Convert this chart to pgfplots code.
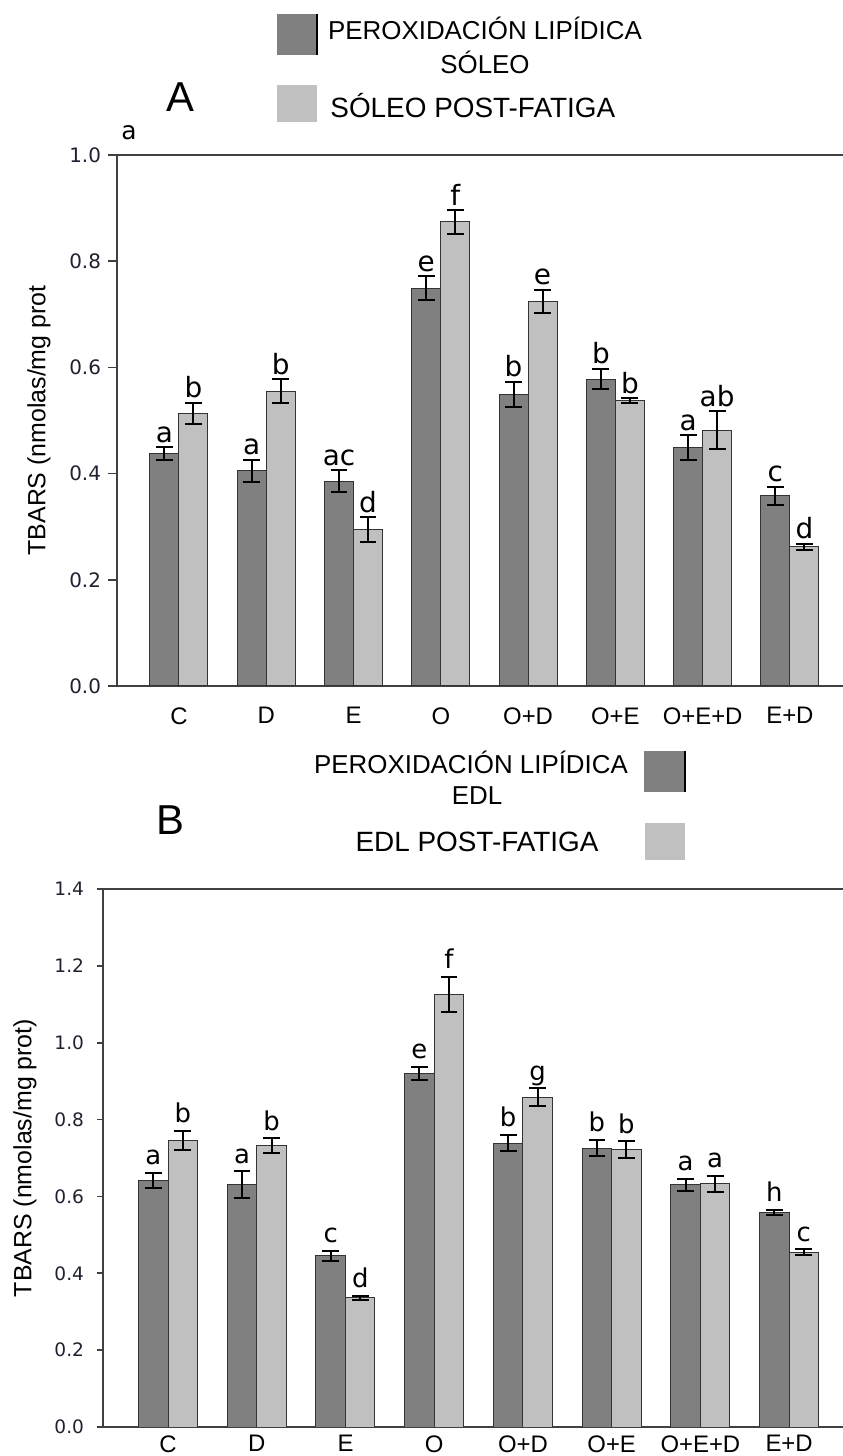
\documentclass[border=0pt]{standalone}
\usepackage{pgfplots}
\pgfplotsset{compat=1.18}
\usepackage{pgfplotstable}
\usepackage{fontspec}
\setmainfont{Liberation Sans}
\newfontfamily\dejavu{DejaVu Sans}

\definecolor{darkbar}{HTML}{808080}
\definecolor{lightbar}{HTML}{C0C0C0}
\definecolor{axcol}{HTML}{404040}
\definecolor{tickcol}{HTML}{202030}

% Panel A: soleo
\pgfplotstableread{
x y e lab
0 0.438 0.012 a
1 0.405 0.021 a
2 0.386 0.020 ac
3 0.749 0.023 e
4 0.549 0.024 b
5 0.578 0.019 b
6 0.449 0.023 a
7 0.358 0.017 c
}\soleoPre
\pgfplotstableread{
x y e lab
0 0.513 0.020 b
1 0.555 0.023 b
2 0.295 0.023 d
3 0.874 0.022 f
4 0.724 0.022 e
5 0.537 0.005 b
6 0.482 0.035 ab
7 0.262 0.006 d
}\soleoPost
% Panel B: EDL
\pgfplotstableread{
x y e lab
0 0.641 0.020 a
1 0.631 0.035 a
2 0.445 0.014 c
3 0.920 0.018 e
4 0.739 0.021 b
5 0.726 0.022 b
6 0.630 0.016 a
7 0.558 0.007 h
}\edlPre
\pgfplotstableread{
x y e lab
0 0.746 0.025 b
1 0.732 0.019 b
2 0.336 0.005 d
3 1.125 0.046 f
4 0.858 0.023 g
5 0.722 0.022 b
6 0.633 0.021 a
7 0.455 0.007 c
}\edlPost

\pgfplotsset{
  barpanel/.style={
    scale only axis,
    anchor=south west,
    ybar,
    ymin=0,
    xtick={0,...,7},
    xticklabels={C,D,E,O,O+D,O+E,O+E+D,E+D},
    xtick style={draw=none},
    ytick pos=left,
    tick align=outside,
    axis line style={axcol, line width=0.8bp},
    ytick style={axcol, line width=0.8bp},
    /pgf/number format/assume math mode=true,
    /pgf/number format/fixed,
    /pgf/number format/fixed zerofill,
    /pgf/number format/precision=1,
    yticklabel style={color=tickcol},
    xticklabel style={font=\fontsize{12}{14}\selectfont, anchor=north, inner sep=0pt},
    every axis y label/.style={at={(axis description cs:0,0.5)}, rotate=90, anchor=center, yshift=39bp, font=\fontsize{12.5}{14}\selectfont},
  },
  errs/.style={
    error bars/.cd,
    y dir=both, y explicit,
    error bar style={line width=1bp, black},
    error mark options={rotate=90, mark size=4.2bp, line width=1bp, black},
  },
  letters/.style={
    draw=none, fill=none,
    nodes near coords,
    point meta=explicit symbolic,
    every node near coord/.append style={anchor=base, inner sep=0pt, text=black},
  },
  darkser/.style={fill=darkbar, draw=black!80, line width=0.5bp},
  lightser/.style={fill=lightbar, draw=black!80, line width=0.5bp},
}

\begin{document}
\begin{tikzpicture}
\useasboundingbox (0,0) rectangle (421.5bp,728bp);

% ---------- Panel A ----------
\begin{axis}[barpanel,
  at={(58.5bp,385bp)},
  width=366bp, height=265.5bp,
  xmin=-0.710, xmax=7.677,
  ymax=1.0,
  ytick={0,0.2,0.4,0.6,0.8,1.0},
  bar width=14.5bp,
  major tick length=4.5bp,
  yticklabel style={font=\dejavu\fontsize{10}{11}\selectfont},
  xticklabel shift=6bp,
  ylabel={TBARS (nmolas/mg prot},
  every node near coord/.append style={font=\dejavu\fontsize{14}{16}\selectfont, yshift=2.5bp},
]
\addplot[darkser, bar shift=-7.25bp, errs] table[x=x, y=y, y error=e] {\soleoPre};
\addplot[lightser, bar shift=7.25bp, errs] table[x=x, y=y, y error=e] {\soleoPost};
\addplot[letters, bar shift=-7.25bp] table[x=x, y expr=\thisrow{y}+\thisrow{e}, meta=lab] {\soleoPre};
\addplot[letters, bar shift=7.25bp] table[x=x, y expr=\thisrow{y}+\thisrow{e}, meta=lab] {\soleoPost};
\end{axis}

% ---------- Panel B ----------
\begin{axis}[barpanel,
  at={(51.5bp,14.5bp)},
  width=373bp, height=269bp,
  xmin=-0.733, xmax=7.675,
  ymax=1.4,
  ytick={0,0.2,0.4,0.6,0.8,1.0,1.2,1.4},
  bar width=14.75bp,
  major tick length=3bp,
  yticklabel style={font=\dejavu\fontsize{9.3}{10}\selectfont, xshift=-3bp},
  xticklabel shift=1bp,
  ylabel={TBARS (nmolas/mg prot)},
  every node near coord/.append style={font=\dejavu\fontsize{13}{15}\selectfont, yshift=4bp},
]
\addplot[darkser, bar shift=-7.375bp, errs] table[x=x, y=y, y error=e] {\edlPre};
\addplot[lightser, bar shift=7.375bp, errs] table[x=x, y=y, y error=e] {\edlPost};
\addplot[letters, bar shift=-7.375bp] table[x=x, y expr=\thisrow{y}+\thisrow{e}, meta=lab] {\edlPre};
\addplot[letters, bar shift=7.375bp] table[x=x, y expr=\thisrow{y}+\thisrow{e}, meta=lab] {\edlPost};
\end{axis}

% ---------- Legend A ----------
\fill[darkbar] (138.5bp,700.5bp) rectangle (159bp,721bp);
\draw[black, line width=1bp] (158.5bp,700.5bp) -- (158.5bp,721bp);
\fill[lightbar] (138.5bp,667bp) rectangle (158.5bp,685.5bp);
\node[font=\fontsize{13}{15}\selectfont, anchor=center] at (242.5bp,714bp) {PEROXIDACIÓN LIPÍDICA};
\node[font=\fontsize{13}{15}\selectfont, anchor=center] at (242.5bp,697bp) {SÓLEO};
\node[font=\fontsize{14}{16}\selectfont, anchor=west, inner sep=0pt] at (165bp,675bp) {SÓLEO POST-FATIGA};
\node[font=\fontsize{21}{24}\selectfont] at (90bp,679.5bp) {A};
\node[font=\dejavu\fontsize{12.5}{14}\selectfont] at (64.5bp,661.5bp) {a};

% ---------- Legend B ----------
\fill[darkbar] (322bp,332bp) rectangle (343bp,352.5bp);
\draw[black, line width=1bp] (342.5bp,332bp) -- (342.5bp,352.5bp);
\fill[lightbar] (322.5bp,298bp) rectangle (342.5bp,316.5bp);
\node[font=\fontsize{13}{15}\selectfont, anchor=center] at (235.5bp,347bp) {PEROXIDACIÓN LIPÍDICA};
\node[font=\fontsize{13}{15}\selectfont, anchor=center] at (238.5bp,330bp) {EDL};
\node[font=\fontsize{14}{16}\selectfont, anchor=center] at (238.5bp,307bp) {EDL POST-FATIGA};
\node[font=\fontsize{21}{24}\selectfont] at (85bp,318bp) {B};
\end{tikzpicture}
\end{document}
